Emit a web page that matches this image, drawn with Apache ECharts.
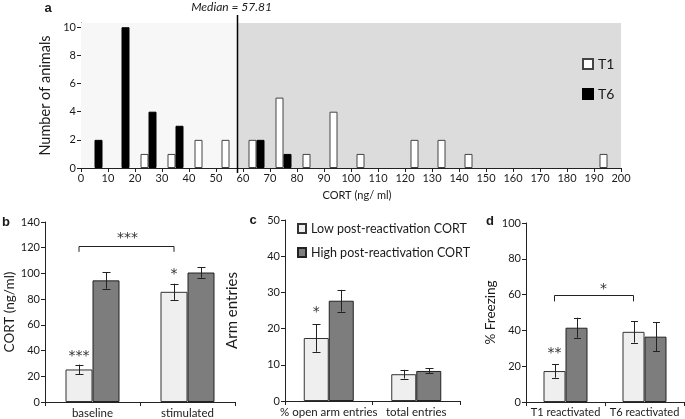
<!DOCTYPE html>
<html><head><meta charset="utf-8">
<script src="https://cdn.jsdelivr.net/npm/echarts@6/dist/echarts.min.js"></script>
<style>html,body{margin:0;padding:0;background:#fff}#c{width:685px;height:419px}</style>
</head><body><div id="c"></div><script>
const FONT = 'Lato, "Noto Sans", sans-serif';
const TXT = '#1a1a1a';
// ---- Panel a: histogram ----
const binCenters = [5,15,25,35,45,55,65,75,85,95,105,115,125,135,145,155,165,175,185,195];
const t1Counts  = [0,0,1,1,2,2,2,5,1,4,1,0,2,2,1,0,0,0,0,1];
const t6Counts  = [2,10,4,3,0,0,2,1,0,0,0,0,0,0,0,0,0,0,0,0];
const medianCort = 57.81;
const histYTicks = [0,2,4,6,8,10];
// ---- Panel b ----
const cortCats = ['baseline','stimulated'];
const cortLow = [25.3, 85.7], cortLowErr = [3.8, 6.3];
const cortHigh = [94.6, 100.7], cortHighErr = [6.5, 4.0];
// ---- Panel c ----
const armCats = ['% open arm entries','total entries'];
const armLow = [17.4, 7.4], armLowErr = [3.8, 1.2];
const armHigh = [27.7, 8.3], armHighErr = [3.0, 0.7];
// ---- Panel d ----
const frzCats = ['T1 reactivated','T6 reactivated'];
const frzLow = [17.3, 39.2], frzLowErr = [3.7, 6.0];
const frzHigh = [41.5, 36.5], frzHighErr = [5.6, 8.2];

const LOW = 'Low post-reactivation CORT', HIGH = 'High post-reactivation CORT';
const lightCol = '#efefef', darkCol = '#7d7d7d';

const chart = echarts.init(document.getElementById('c'), null, {renderer:'canvas'});

const axLine = {show:true, lineStyle:{color:'#222', width:1}};
const axTick = {show:true, inside:false, length:4, lineStyle:{color:'#222'}};
const TICKSZ = 11;
function yAx(grid, max, interval, name, nameGap, nameSize, extra) {
  return Object.assign({
    type:'value', gridIndex:grid, min:0, max:max, interval:interval,
    axisLine:axLine, axisTick:axTick, splitLine:{show:false},
    axisLabel:{fontFamily:FONT, fontSize:TICKSZ, color:TXT, margin:5},
    name:name, nameLocation:'middle', nameGap:nameGap,
    nameTextStyle:{fontFamily:FONT, fontSize:nameSize, color:TXT}
  }, extra||{});
}
function xCat(grid, cats, size) {
  return {type:'category', gridIndex:grid, data:cats,
    axisLine:axLine, axisTick:{show:true, length:4, alignWithLabel:false, lineStyle:{color:'#222'}},
    axisLabel:{fontFamily:FONT, fontSize:size, color:TXT, margin:5, interval:0}};
}
function errSeries(ai, vals, errs, offset, cap) {
  return {type:'custom', xAxisIndex:ai, yAxisIndex:ai, silent:true, z:5,
    encode:{x:0, y:[1,2]},
    data: vals.map((v,i)=>[i, v-errs[i], v+errs[i]]),
    renderItem(params, api){
      const lo = api.coord([api.value(0), api.value(1)]);
      const hi = api.coord([api.value(0), api.value(2)]);
      const x = Math.round(lo[0]+offset)+0.5;
      const st = {stroke:'#222', lineWidth:1};
      return {type:'group', children:[
        {type:'line', shape:{x1:x,y1:hi[1],x2:x,y2:lo[1]}, style:st},
        {type:'line', shape:{x1:x-cap/2,y1:Math.round(hi[1])+0.5,x2:x+cap/2,y2:Math.round(hi[1])+0.5}, style:st},
        {type:'line', shape:{x1:x-cap/2,y1:Math.round(lo[1])+0.5,x2:x+cap/2,y2:Math.round(lo[1])+0.5}, style:st}
      ]};
    }};
}
function barPair(ai, low, high, w) {
  return [
    {type:'bar', name:LOW, xAxisIndex:ai, yAxisIndex:ai, data:low, barWidth:w, barGap:'0%',
     itemStyle:{color:lightCol, borderColor:'#333', borderWidth:1}, z:3},
    {type:'bar', name:HIGH, xAxisIndex:ai, yAxisIndex:ai, data:high, barWidth:w, barGap:'0%',
     itemStyle:{color:darkCol, borderColor:'#222', borderWidth:1}, z:3}
  ];
}

const wb = 27, wc = 25, wd = 22;
const option = {
  animation:false,
  backgroundColor:'#fff',
  textStyle:{fontFamily:FONT},
  grid:[
    {left:81, right:64, top:23, bottom:251},
    {left:45, right:450, top:222, bottom:17},
    {left:285, right:225, top:220, bottom:18},
    {left:526, right:1, top:223, bottom:17}
  ],
  xAxis:[
    {type:'value', gridIndex:0, min:0, max:200, interval:10,
     axisLine:axLine, axisTick:axTick, splitLine:{show:false},
     axisLabel:{fontFamily:FONT, fontSize:TICKSZ, color:TXT, margin:5},
     name:'CORT (ng/ ml)', nameLocation:'middle', nameGap:22,
     nameTextStyle:{fontFamily:FONT, fontSize:11, color:TXT, padding:[0,0,0,12]}},
    xCat(1, cortCats, 11.5),
    xCat(2, armCats, 11.5),
    xCat(3, frzCats, 11)
  ],
  yAxis:[
    yAx(0, 10.3, 2, 'Number of animals', 21, 14.5,
      {axisLabel:{fontFamily:FONT, fontSize:TICKSZ, color:TXT, margin:5, customValues:histYTicks},
       axisTick:Object.assign({}, axTick, {customValues:histYTicks})}),
    yAx(1, 140, 20, 'CORT (ng/ml)', 26, 13.5),
    yAx(2, 50, 10, 'Arm entries', 45, 15),
    yAx(3, 100, 20, '% Freezing', 26, 13.5)
  ],
  legend:[
    {data:['T1','T6'], orient:'vertical', left:577, top:52, itemWidth:10, itemHeight:10,
     itemGap:16, itemTextGap:8, icon:'rect', selectedMode:false,
     textStyle:{fontFamily:FONT, fontSize:14, color:TXT}},
    {data:[LOW, HIGH], orient:'vertical', left:292, top:217, itemWidth:8, itemHeight:9,
     itemGap:11, itemTextGap:3, icon:'rect', selectedMode:false,
     textStyle:{fontFamily:FONT, fontSize:12.5, color:TXT}}
  ],
  series:[
    {type:'line', xAxisIndex:0, yAxisIndex:0, data:[], z:0, silent:true,
     markArea:{silent:true, data:[
       [{xAxis:0, itemStyle:{color:'#f7f7f7'}}, {xAxis:medianCort}],
       [{xAxis:medianCort, itemStyle:{color:'#dcdcdc'}}, {xAxis:200}]
     ]}},
    {type:'bar', name:'T1', xAxisIndex:0, yAxisIndex:0, barWidth:8, barGap:'0%', z:3,
     data: binCenters.map((c,i)=>[c, t1Counts[i]]).filter(d=>d[1]>0),
     itemStyle:{color:'#ffffff', borderColor:'#444', borderWidth:1}},
    {type:'bar', name:'T6', xAxisIndex:0, yAxisIndex:0, barWidth:8, barGap:'0%', z:3,
     data: binCenters.map((c,i)=>[c, t6Counts[i]]).filter(d=>d[1]>0),
     itemStyle:{color:'#000000', borderColor:'#000', borderWidth:1}},
    ...barPair(1, cortLow, cortHigh, wb),
    errSeries(1, cortLow, cortLowErr, -wb/2, 8),
    errSeries(1, cortHigh, cortHighErr, wb/2, 8),
    ...barPair(2, armLow, armHigh, wc),
    errSeries(2, armLow, armLowErr, -wc/2, 8),
    errSeries(2, armHigh, armHighErr, wc/2, 8),
    ...barPair(3, frzLow, frzHigh, wd),
    errSeries(3, frzLow, frzLowErr, -wd/2, 7),
    errSeries(3, frzHigh, frzHighErr, wd/2, 7)
  ]
};
chart.setOption(option);

function px(ai, x, y){ return chart.convertToPixel({xAxisIndex:ai, yAxisIndex:ai}, [x, y]); }
const g = [];
const txt = (x,y,text,size,extra)=>Object.assign({type:'text', x:x, y:y,
  style:Object.assign({text:text, fontFamily:FONT, fontSize:size, fill:TXT, align:'center', verticalAlign:'middle'}, extra||{})});
// panel labels
g.push(txt(48,8,'a',13,{fontFamily:'Arial', fontWeight:'bold'}));
g.push(txt(6,222,'b',13,{fontFamily:'Arial', fontWeight:'bold'}));
g.push(txt(253,220,'c',13,{fontFamily:'Arial', fontWeight:'bold'}));
g.push(txt(490,221,'d',13,{fontFamily:'Arial', fontWeight:'bold'}));
// median line
const m0 = px(0, medianCort, 0), m1 = px(0, medianCort, 10.3);
const mx = Math.round(m0[0])+0.5;
g.push({type:'line', shape:{x1:mx, y1:m1[1]-8, x2:mx, y2:m0[1]+5}, style:{stroke:'#000', lineWidth:1.5}, z:10});
g.push(txt(mx-6, m1[1]-16, 'Median = 57.81', 12, {fontStyle:'italic'}));
// region labels
const lp = px(0, 37, 7.6);
g.push(txt(lp[0], lp[1], 'Low post-\nreactivation\nCORT', 14, {lineHeight:17}));
const hp = px(0, 127.4, 8.2);
g.push(txt(hp[0], hp[1], 'High post-\nreactivation CORT', 14, {lineHeight:18}));
// significance marks
const STARF = '"DejaVu Sans", sans-serif';
function star(ai, cat, off, val, s){ const p = px(ai, cat, val); g.push(txt(p[0]+off, p[1]+4, s, 14, {fontFamily:STARF, fill:'#333'})); }
function bracket(ai, c1, o1, c2, o2, val, drop){
  const a = px(ai, c1, val), b = px(ai, c2, val), d = px(ai, c1, val-drop);
  const y = Math.round(a[1])+0.5;
  g.push({type:'polyline', shape:{points:[[a[0]+o1, d[1]],[a[0]+o1, y],[b[0]+o2, y],[b[0]+o2, d[1]]]},
    style:{stroke:'#222', lineWidth:1, fill:null}});
}
star(1, 0, -wb/2, 38.5, '***');
star(1, 1, -wb/2, 102, '*');
bracket(1, 0, -wb/2, 1, -wb/2, 121.5, 4.7);
star(1, 0, wb*1.3, 130, '***');
star(2, 0, -wc/2, 25.7, '*');
star(3, 0, -wd/2, 29.4, '**');
bracket(3, 0, -wd/2, 1, -wd/2, 60, 3.8);
star(3, 0, 1.5*wd + 5, 65, '*');
chart.setOption({graphic:g});
</script></body></html>
